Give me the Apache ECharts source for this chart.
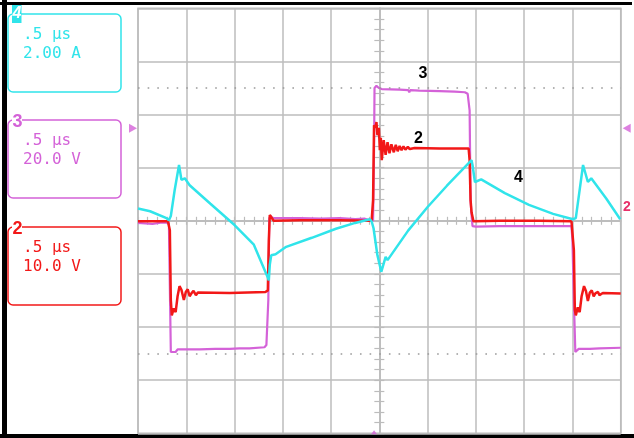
<!DOCTYPE html>
<html>
<head>
<meta charset="utf-8">
<script src="https://cdn.jsdelivr.net/npm/echarts@6/dist/echarts.min.js"></script>
<style>
html,body{margin:0;padding:0;background:#fff;}
#chart{width:634px;height:438px;}
</style>
</head>
<body>
<div id="chart"></div>
<script>
// Time axis in divisions (0.5 µs/div), centre = 0; vertical in divisions.
const channelTags = ['4', '3', '2'];
const timeBase = '.5 \u03bcs';
const channelScales = ['2.00 A', '20.0 V', '10.0 V'];
const traceLabels = ['3', '2', '4'];

// Channel 3 (switch node voltage, 20 V/div) [div, div]
const ch3 = [
  [-5.0,-0.04],[-4.7,-0.06],[-4.5,-0.03],[-4.36,-0.04],[-4.32,-2.47],[-4.28,-2.44],[-4.22,-2.47],[-4.18,-2.42],
  [-3.72,-2.42],[-3.4,-2.41],[-3.10,-2.41],[-2.9,-2.40],[-2.69,-2.40],[-2.38,-2.38],[-2.34,-2.34],[-2.30,-1.49],
  [-2.28,0.05],[-2.25,0.09],[-2.21,0.05],[-1.65,0.05],[-1.2,0.04],[-0.82,0.05],[-0.5,0.03],[-0.30,0.04],
  [-0.20,0.01],[-0.16,-0.02],[-0.13,0.0],[-0.11,1.33],[-0.10,2.50],[-0.06,2.54],[-0.01,2.50],[0.05,2.48],
  [0.42,2.47],[0.6,2.46],[0.62,2.42],[0.64,2.46],[0.83,2.45],[1.25,2.44],[1.56,2.43],[1.6,2.41],[1.77,2.42],
  [1.83,2.39],[1.87,2.08],[1.89,0.39],[1.91,0.11],[1.93,-0.10],[2.00,-0.11],[2.49,-0.10],[3.11,-0.10],
  [3.74,-0.10],[3.98,-0.10],[4.00,-0.36],[4.03,-1.49],[4.06,-2.47],[4.09,-2.45],[4.13,-2.41],[4.36,-2.41],
  [4.56,-2.40],[5.0,-2.39]
];

// Channel 2 (10 V/div)
const ch2 = [
  [-5.0,-0.01],[-4.38,-0.01],[-4.34,-0.18],[-4.32,-1.49],[-4.30,-1.78],[-4.26,-1.65],[-4.22,-1.72],[-4.18,-1.42],
  [-4.14,-1.23],[-4.10,-1.30],[-4.05,-1.49],[-4.01,-1.34],[-3.97,-1.29],[-3.93,-1.42],[-3.89,-1.36],[-3.85,-1.32],
  [-3.80,-1.40],[-3.76,-1.35],[-3.72,-1.37],[-3.10,-1.36],[-2.36,-1.34],[-2.31,-1.31],[-2.29,-0.37],[-2.27,0.11],
  [-2.23,0.09],[-2.19,0.0],[-1.65,0.01],[-0.82,0.01],[-0.16,0.0],[-0.13,0.39],[-0.11,1.80],[-0.08,1.75],
  [-0.06,1.86],[-0.04,1.61],[-0.01,1.75],[0.01,1.33],[0.03,1.56],[0.05,1.14],[0.09,1.52],[0.13,1.24],
  [0.17,1.48],[0.21,1.27],[0.25,1.44],[0.30,1.29],[0.34,1.43],[0.38,1.31],[0.42,1.41],[0.46,1.33],
  [0.50,1.40],[0.54,1.34],[0.59,1.39],[0.63,1.35],[0.73,1.37],[1.25,1.36],[1.85,1.36],[1.87,1.14],
  [1.89,0.39],[1.91,0.16],[1.95,-0.01],[2.49,0.0],[3.32,0.0],[3.98,-0.01],[4.03,-0.55],[4.05,-1.68],
  [4.07,-1.78],[4.11,-1.63],[4.15,-1.72],[4.19,-1.42],[4.24,-1.23],[4.28,-1.32],[4.32,-1.51],[4.36,-1.35],
  [4.40,-1.31],[4.44,-1.42],[4.48,-1.36],[4.53,-1.34],[4.56,-1.40],[4.63,-1.36],[5.0,-1.37]
];

// Channel 4 (inductor current, 2 A/div)
const ch4 = [
  [-5.0,0.23],[-4.75,0.18],[-4.41,0.05],[-4.36,0.01],[-4.32,0.09],[-4.24,0.58],[-4.15,1.05],[-4.10,0.77],
  [-4.03,0.80],[-3.93,0.67],[-3.5,0.32],[-3.0,-0.08],[-2.6,-0.45],[-2.32,-1.05],[-2.29,-1.12],[-2.27,-0.83],
  [-2.24,-0.65],[-2.15,-0.63],[-1.93,-0.49],[-1.4,-0.32],[-0.9,-0.15],[-0.5,-0.04],[-0.20,0.03],[-0.16,-0.01],
  [-0.12,-0.14],[-0.04,-0.65],[0.04,-0.96],[0.13,-0.68],[0.17,-0.74],[0.6,-0.18],[1.0,0.26],[1.4,0.66],
  [1.91,1.14],[1.93,1.05],[1.98,0.73],[2.11,0.78],[2.6,0.52],[3.1,0.30],[3.6,0.13],[4.01,0.03],[4.07,0.05],
  [4.22,1.05],[4.32,0.73],[4.39,0.80],[4.7,0.42],[4.99,0.03]
];

const gridColor = '#bcbcbc';
const chart = echarts.init(document.getElementById('chart'), null, {renderer: 'canvas'});

function mkX(pos, idx, split) {
  return {
    type: 'value', min: -5, max: 5, interval: 1, position: pos,
    axisLine: {show: true, onZero: true, onZeroAxisIndex: idx, lineStyle: {color: gridColor, width: 1.5}},
    axisTick: {show: true, inside: true, length: 4, lineStyle: {color: gridColor, width: 1.2}},
    minorTick: {show: true, splitNumber: 5, length: 4, lineStyle: {color: gridColor, width: 1.2}},
    axisLabel: {show: false},
    splitLine: {show: split, lineStyle: {color: gridColor, width: 1.5}}
  };
}
function mkY(pos, idx, split) {
  return {
    type: 'value', min: -4, max: 4, interval: 1, position: pos,
    axisLine: {show: true, onZero: true, onZeroAxisIndex: idx, lineStyle: {color: gridColor, width: 1.5}},
    axisTick: {show: true, inside: true, length: 5, lineStyle: {color: gridColor, width: 1.2}},
    minorTick: {show: true, splitNumber: 5, length: 5, lineStyle: {color: gridColor, width: 1.2}},
    axisLabel: {show: false},
    splitLine: {show: split, lineStyle: {color: gridColor, width: 1.5}}
  };
}

const cyan = '#30e4ea';
const magenta = '#d462d8';
const red = '#f21818';

const boxTop = [14, 120, 227];
const boxColors = [cyan, magenta, red];

const graphics = [
  {type: 'rect', shape: {x: 0, y: 2, width: 632, height: 3}, style: {fill: '#000'}},
  {type: 'rect', shape: {x: 2, y: 0, width: 5, height: 438}, style: {fill: '#000'}},
  {type: 'rect', shape: {x: 0, y: 434, width: 634, height: 4}, style: {fill: '#000'}}
];
channelTags.forEach((tag, i) => {
  const y0 = boxTop[i];
  const c = boxColors[i];
  graphics.push({type: 'rect', shape: {x: 8, y: y0, width: 113, height: 78, r: 5},
    style: {fill: '#fff', stroke: c, lineWidth: 1.5}});
  if (i === 0) {
    graphics.push({type: 'rect', shape: {x: 12, y: 5, width: 9.5, height: 18}, style: {fill: c}});
    graphics.push({type: 'text', x: 17, y: 14, style: {text: tag, fill: '#fff',
      font: 'italic bold 16px "Liberation Sans"', align: 'center', verticalAlign: 'middle'}});
  } else {
    graphics.push({type: 'rect', shape: {x: 12, y: y0 - 3, width: 10, height: 6}, style: {fill: '#fff'}});
    graphics.push({type: 'text', x: 17.5, y: y0 + 2, style: {text: tag, fill: c,
      font: 'bold 18px "Liberation Sans"', align: 'center', verticalAlign: 'middle'}});
  }
  graphics.push({type: 'text', x: 23, y: y0 + 21, style: {text: timeBase, fill: c,
    font: '16px "DejaVu Sans Mono"', align: 'left', verticalAlign: 'middle'}});
  graphics.push({type: 'text', x: 23, y: y0 + 40, style: {text: channelScales[i], fill: c,
    font: '16px "DejaVu Sans Mono"', align: 'left', verticalAlign: 'middle'}});
});
// trace labels on the plot
const labelPx = [[423, 74], [418.5, 139], [518.5, 178]];
traceLabels.forEach((t, i) => {
  graphics.push({type: 'text', x: labelPx[i][0], y: labelPx[i][1], z: 100, style: {text: t, fill: '#000',
    font: 'bold 16px "Liberation Sans"', align: 'center', verticalAlign: 'middle'}});
});
// right-edge channel 2 marker
graphics.push({type: 'text', x: 627, y: 207, style: {text: '2', fill: '#e8306a',
  font: 'bold 14px "Liberation Sans"', align: 'center', verticalAlign: 'middle'}});

const option = {
  animation: false,
  backgroundColor: '#fff',
  grid: [{left: 138, right: 13.3, top: 8.3, bottom: 4.7, show: true, borderColor: gridColor, borderWidth: 1.5, backgroundColor: 'transparent'}],
  xAxis: [mkX('bottom', 0, true), mkX('top', 1, false)],
  yAxis: [mkY('left', 0, true), mkY('right', 1, false)],
  graphic: graphics,
  series: [
    {name: 'CH3', type: 'line', xAxisIndex: 0, yAxisIndex: 0, data: ch3, showSymbol: false, symbol: 'none',
      lineStyle: {color: magenta, width: 2.2}, z: 3,
      markLine: {silent: true, symbol: 'none', label: {show: false},
        lineStyle: {color: '#9a9a9a', type: [1.6, 8.05], width: 1.6},
        data: [{yAxis: 2.5}, {yAxis: -2.5}]}},
    {name: 'CH2', type: 'line', xAxisIndex: 0, yAxisIndex: 0, data: ch2, showSymbol: false, symbol: 'none',
      lineStyle: {color: red, width: 2.5}, z: 4},
    {name: 'CH4', type: 'line', xAxisIndex: 0, yAxisIndex: 0, data: ch4, showSymbol: false, symbol: 'none',
      lineStyle: {color: cyan, width: 2.5}, z: 5},
    {name: 'markers', type: 'scatter', xAxisIndex: 0, yAxisIndex: 0, clip: false, z: 6, silent: true,
      data: [
        {value: [-5, 1.74], symbolRotate: -90, symbolOffset: [-5, 0]},
        {value: [5, 1.74], symbolRotate: 90, symbolOffset: [6, 0]},
        {value: [-0.11, -4], symbolRotate: 0, symbolOffset: [0, -1], symbolSize: [6, 4]}
      ],
      symbol: 'triangle', symbolSize: [9, 8], itemStyle: {color: magenta}}
  ]
};
chart.setOption(option);
</script>
</body>
</html>
